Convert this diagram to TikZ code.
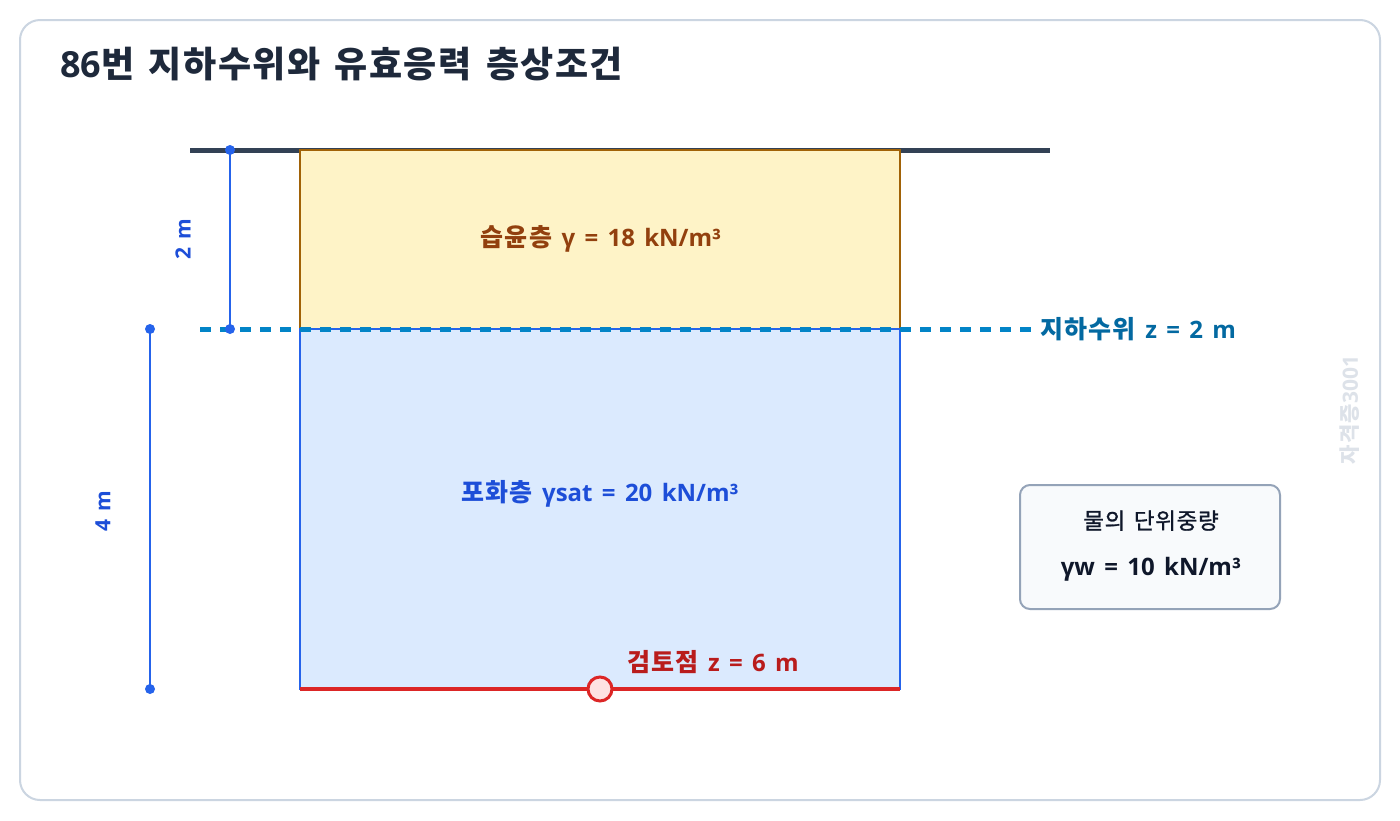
\documentclass[tikz,border=0pt]{standalone}
\usepackage{fontspec}
\setmainfont{Open Sans}[WordSpace=1.5]
\newfontfamily\hg{Noto Sans CJK KR}[WordSpace=1.5, LetterSpace=5]
\newfontfamily\hgt{Noto Sans CJK KR}[WordSpace=1.5, LetterSpace=4]
\newfontfamily\hgm{Noto Sans CJK KR}[WordSpace=1.5, LetterSpace=3, FakeBold=1.2]
\newcommand\hgl[1]{{\hg\fontsize{25}{25}\selectfont #1}}
\definecolor{cardline}{HTML}{CBD5E1}
\definecolor{titlec}{HTML}{1E293B}
\definecolor{groundc}{HTML}{334155}
\definecolor{wetfill}{HTML}{FEF3C7}
\definecolor{wetline}{HTML}{A16207}
\definecolor{wettext}{HTML}{92400E}
\definecolor{satfill}{HTML}{DBEAFE}
\definecolor{satline}{HTML}{2563EB}
\definecolor{sattext}{HTML}{1D4ED8}
\definecolor{waterc}{HTML}{0284C7}
\definecolor{watertext}{HTML}{0369A1}
\definecolor{redc}{HTML}{DC2626}
\definecolor{redtext}{HTML}{B91C1C}
\definecolor{redfill}{HTML}{FEE2E2}
\definecolor{boxfill}{HTML}{F8FAFC}
\definecolor{boxline}{HTML}{94A3B8}
\definecolor{darktext}{HTML}{0F172A}
\definecolor{wmark}{HTML}{DDE2E9}
\tikzset{
  card/.style={draw=cardline, line width=2pt, fill=white, rounded corners=20pt},
  layerbox/.style={anchor=north west, inner sep=0pt, outer sep=0pt, line width=2pt},
  dimline/.style={draw=satline, line width=2.5pt},
  dimdot/.style={circle, fill=satline, inner sep=0pt, minimum size=10pt},
  dimlabel/.style={text=sattext, font=\bfseries\fontsize{21}{21}\selectfont, rotate=90, inner sep=0pt},
  lbl/.style={font=\bfseries\fontsize{24}{24}\selectfont, inner sep=0pt, anchor=base},
}
\begin{document}
\begin{tikzpicture}[x=1pt,y=-1pt]
\useasboundingbox (0,0) rectangle (1400,820);
\fill[white] (0,0) rectangle (1400,820);
\draw[card] (20,20) rectangle (1380,800);
\node[anchor=base west, inner sep=0pt, text=titlec, font=\bfseries\fontsize{36}{36}\selectfont] (title) at (60,77) {86{\hgt 번 지하수위와 유효응력 층상조건}};
% ground
\coordinate (gl) at (190,150);
\coordinate (gr) at (1050,150);
\draw[groundc, line width=5pt] (gl) -- (gr);
% layers
\node[layerbox, draw=wetline, fill=wetfill, minimum width=600pt, minimum height=179pt] (wet) at (300,150) {};
\node[layerbox, draw=satline, fill=satfill, minimum width=600pt, minimum height=360pt] (sat) at (300,329) {};
\node[lbl, text=wettext] (wettxt) at (601,246) {\hgl{습윤층} γ = 18 kN/m³};
\node[lbl, text=sattext] (sattxt) at (600,501.5) {\hgl{포화층} γsat = 20 kN/m³};
% water table
\coordinate (wl) at (200,329);
\coordinate (wr) at (1032,329);
\draw[waterc, line width=5pt, dash pattern=on 11pt off 9pt] (wl) -- (wr);
\node[lbl, anchor=base west, text=watertext] (wtxt) at (1040,338) {\hgl{지하수위} z = 2 m};
% dimension 2 m
\node[dimdot] (d1a) at (230,150) {};
\node[dimdot] (d1b) at (230,329) {};
\draw[dimline] (d1a.center) -- (d1b.center);
\node[dimlabel] (d1t) at (183,239) {2 m};
% dimension 4 m
\node[dimdot] (d2a) at (150,329) {};
\node[dimdot] (d2b) at (150,689) {};
\draw[dimline] (d2a.center) -- (d2b.center);
\node[dimlabel] (d2t) at (103,511) {4 m};
% check point
\draw[redc, line width=4pt] (sat.south west) -- (sat.south east);
\node[circle, draw=redc, fill=redfill, line width=3pt, minimum size=24pt, inner sep=0pt] (pt) at (600,689) {};
\node[lbl, anchor=base west, text=redtext] (pttxt) at (627,671) {\hgl{검토점} z = 6 m};
% info box
\node[draw=boxline, fill=boxfill, line width=2pt, rounded corners=10pt, minimum width=260pt, minimum height=124pt, inner sep=0pt] (info) at (1150,547) {};
\node[text=darktext, font=\hgm\fontsize{22.5}{22.5}\selectfont, inner sep=0pt, anchor=base] (info1) at (1151,529) {물의 단위중량};
\node[lbl, text=darktext] (info2) at (1151,575) {γw = 10 kN/m³};
% watermark
\node[text=wmark, font=\bfseries\fontsize{21}{21}\selectfont, rotate=90, inner sep=0pt] (wm) at (1350,410) {{\hg 자격증}3001};
\end{tikzpicture}
\end{document}
